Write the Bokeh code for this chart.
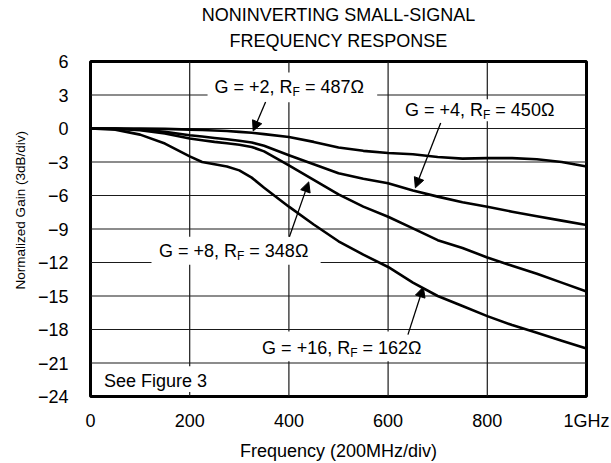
from bokeh.plotting import figure
from bokeh.models import Range1d, FixedTicker, Title, Arrow, NormalHead, ColumnDataSource
from bokeh.core.properties import value
from bokeh.embed import file_html
from bokeh.resources import INLINE

FONT = "Liberation Sans"

# ---------------- data ----------------
freq = [0, 50, 100, 150, 200, 225, 250, 275, 300, 325, 350, 400, 450, 500, 550, 600, 650, 700, 750, 800, 850, 900, 950, 1000]
gain_g2 = [0, 0, 0, -0.03, -0.1, -0.13, -0.18, -0.23, -0.3, -0.38, -0.5, -0.76, -1.2, -1.7, -2.0, -2.2, -2.3, -2.55, -2.7, -2.65, -2.65, -2.75, -3.0, -3.4]
gain_g4 = [0, 0, -0.1, -0.3, -0.6, -0.72, -0.85, -0.97, -1.1, -1.25, -1.55, -2.4, -3.2, -4.0, -4.5, -4.9, -5.55, -6.1, -6.6, -7.0, -7.45, -7.85, -8.25, -8.65]
gain_g8 = [0, -0.02, -0.15, -0.45, -0.9, -1.05, -1.2, -1.32, -1.45, -1.65, -2.05, -3.3, -4.6, -5.9, -7.0, -7.9, -8.95, -10.0, -10.7, -11.55, -12.3, -13.0, -13.8, -14.6]
gain_g16 = [0, -0.1, -0.55, -1.35, -2.5, -3.0, -3.2, -3.4, -3.75, -4.4, -5.3, -7.0, -8.6, -10.1, -11.3, -12.4, -13.8, -15.0, -15.9, -16.8, -17.6, -18.3, -19.0, -19.7]

x_ticks = [0, 200, 400, 600, 800, 1000]
x_tick_labels = ["0", "200", "400", "600", "800", "1GHz"]
y_ticks = [-24, -21, -18, -15, -12, -9, -6, -3, 0, 3, 6]
y_tick_labels = ["\u221224", "\u221221", "\u221218", "\u221215", "\u221212", "\u22129", "\u22126", "\u22123", "0", "3", "6"]

# annotations (data units)
ann_pre = ["G = +2, R", "G = +4, R", "G = +8, R", "G = +16, R"]
ann_sub = ["F", "F", "F", "F"]
ann_post = ["= 487\u03a9", "= 450\u03a9", "= 348\u03a9", "= 162\u03a9"]
ann_x = [250, 634, 138, 346]
ann_y = [3.7, 1.63, -10.94, -19.66]

box_left = [236, 625, 123, 339, 20]
box_right = [578, 958, 464, 685, 252]
box_top = [5.02, 2.61, -9.69, -18.17, -21.3]
box_bottom = [2.34, 0.64, -12.2, -20.85, -23.6]

arrow_x0 = [353, 706, 401, 640]
arrow_y0 = [2.37, 0.49, -9.69, -18.46]
arrow_x1 = [328, 655, 440, 671]
arrow_y1 = [-0.22, -5.31, -4.78, -14.2]

note_text = ["See Figure 3"]
note_x = [27]
note_y = [-22.63]

# ---------------- helpers ----------------
W = {' ': 278, 'G': 778, '=': 584, '+': 584, ',': 278, 'R': 722, 'F': 611, '\u03a9': 768}
for d in "0123456789":
    W[d] = 556


def tw(s, size):
    return sum(W.get(c, 556) for c in s) * size / 1000.0


MAIN = 18
SUB = 12

# ---------------- figure ----------------
p = figure(width=611, height=463,
           x_range=Range1d(0, 1000), y_range=Range1d(-24, 6),
           output_backend="svg", toolbar_location=None, title=None,
           min_border_left=90, min_border_right=25, min_border_top=61, min_border_bottom=66)
p.background_fill_color = "white"
p.border_fill_color = "white"
p.outline_line_color = "black"
p.outline_line_width = 3
p.xgrid.visible = False
p.ygrid.visible = False

spacer = Title(text=" ", align="center", text_font=FONT, text_font_size="1px", standoff=5)
t2 = Title(text="FREQUENCY RESPONSE", align="center", text_font=FONT, text_font_size="18px",
           text_font_style="normal", text_color="black", standoff=5)
t1 = Title(text="NONINVERTING SMALL-SIGNAL", align="center", text_font=FONT, text_font_size="18px",
           text_font_style="normal", text_color="black", standoff=3)
p.add_layout(spacer, "above")
p.add_layout(t2, "above")
p.add_layout(t1, "above")

for ax in (p.xaxis[0], p.yaxis[0]):
    ax.axis_line_color = None
    ax.major_tick_line_color = None
    ax.minor_tick_line_color = None
    ax.major_label_text_font = FONT
    ax.major_label_text_font_size = "18px"
    ax.major_label_text_color = "black"
    ax.axis_label_text_font = FONT
    ax.axis_label_text_font_style = "normal"
    ax.axis_label_text_color = "black"

p.xaxis.ticker = FixedTicker(ticks=x_ticks)
p.xaxis.major_label_overrides = {t: l for t, l in zip(x_ticks, x_tick_labels)}
p.xaxis.major_label_standoff = 8
p.xaxis.axis_label = "Frequency (200MHz/div)"
p.xaxis.axis_label_text_font_size = "18px"
p.xaxis.axis_label_standoff = 7

p.yaxis.ticker = FixedTicker(ticks=y_ticks)
p.yaxis.major_label_overrides = {t: l for t, l in zip(y_ticks, y_tick_labels)}
p.yaxis.major_label_standoff = 16
p.yaxis.axis_label = "\u00a0" * 10 + "Normalized Gain (3dB/div)"
p.yaxis.axis_label_text_font_size = "13.5px"
p.yaxis.axis_label_standoff = 7

# grid lines from the tick values
gxs = [[t, t] for t in x_ticks[1:-1]] + [[x_ticks[0], x_ticks[-1]] for _ in y_ticks[1:-1]]
gys = [[y_ticks[0], y_ticks[-1]] for _ in x_ticks[1:-1]] + [[t, t] for t in y_ticks[1:-1]]
p.multi_line(xs=gxs, ys=gys, line_color="#1a1a1a", line_width=1.2)

for g in (gain_g2, gain_g4, gain_g8, gain_g16):
    p.line(freq, g, line_color="black", line_width=2.6, line_join="round")

# white boxes behind labels
p.quad(left=box_left, right=box_right, top=box_top, bottom=box_bottom,
       fill_color="white", line_color=None)

# labels with subscript
p.text(x=ann_x, y=ann_y, text=ann_pre, text_font=value(FONT), text_font_size=f"{MAIN}px",
       text_baseline="middle", text_align="left", text_color="black")
sub_off = [tw(s, MAIN) for s in ann_pre]
p.text(x=ann_x, y=ann_y, text=ann_sub, x_offset=sub_off, y_offset=5, text_font=value(FONT),
       text_font_size=f"{SUB}px", text_baseline="middle", text_align="left", text_color="black")
post_off = [tw(a, MAIN) + tw(b, SUB) + tw(" ", MAIN) for a, b in zip(ann_pre, ann_sub)]
p.text(x=ann_x, y=ann_y, text=ann_post, x_offset=post_off, text_font=value(FONT),
       text_font_size=f"{MAIN}px", text_baseline="middle", text_align="left", text_color="black")

p.text(x=note_x, y=note_y, text=note_text, text_font=value(FONT), text_font_size=f"{MAIN}px",
       text_baseline="middle", text_align="left", text_color="black")

arrow_src = ColumnDataSource(dict(x0=arrow_x0, y0=arrow_y0, x1=arrow_x1, y1=arrow_y1))
p.add_layout(Arrow(x_start="x0", y_start="y0", x_end="x1", y_end="y1", source=arrow_src,
                   line_color="black", line_width=1.3,
                   end=NormalHead(size=10, fill_color="black", line_color="black", line_width=1)))

open("out.html", "w").write(file_html(p, INLINE))
